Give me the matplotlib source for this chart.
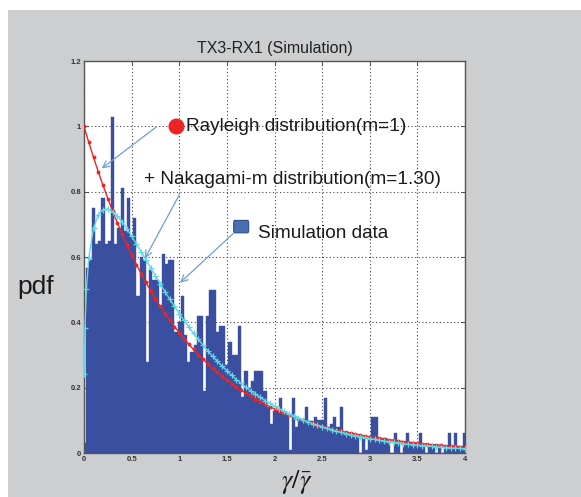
import numpy as np
import matplotlib
matplotlib.use("Agg")
import matplotlib.pyplot as plt
from matplotlib.patches import Rectangle, FancyBboxPatch

plt.rcParams['font.family'] = ['Liberation Sans', 'DejaVu Sans']
plt.rcParams['mathtext.fontset'] = 'stix'

# ---- data ----
bin_width = 1 / 30
hist_heights = [
    0.03, 0.565, 0.59, 0.75, 0.64, 0.65, 0.78, 0.64, 0.65, 1.03,
    0.64, 0.69, 0.81, 0.68, 0.78, 0.66, 0.72, 0.48, 0.60, 0.59,
    0.28, 0.56, 0.53, 0.53, 0.45, 0.61, 0.58, 0.59, 0.59, 0.37,
    0.40, 0.48, 0.36, 0.28, 0.31, 0.33, 0.42, 0.42, 0.19, 0.42,
    0.50, 0.50, 0.37, 0.39, 0.39, 0.27, 0.34, 0.30, 0.30, 0.39,
    0.17, 0.25, 0.20, 0.22, 0.25, 0.25, 0.25, 0.19, 0.14, 0.09,
    0.13, 0.13, 0.167, 0.12, 0.12, 0.01, 0.167, 0.08, 0.10, 0.10,
    0.14, 0.097, 0.097, 0.11, 0.10, 0.10, 0.167, 0.08, 0.09, 0.11,
    0.08, 0.14, 0.065, 0.065, 0.055, 0.055, 0.05, 0.0, 0.045, 0.01,
    0.045, 0.11, 0.11, 0.045, 0.045, 0.045, 0.04, 0.0, 0.06, 0.035,
    0.0, 0.035, 0.06, 0.03, 0.03, 0.03, 0.06, 0.02, 0.0, 0.02,
    0.02, 0.0, 0.02, 0.0, 0.02, 0.06, 0.02, 0.06, 0.02, 0.02,
    0.06,
]

ray_x = list(np.round(np.arange(0, 4.001, 0.05), 2))
ray_y = [
    1.000, 0.951, 0.905, 0.861, 0.819, 0.779, 0.741, 0.705, 0.670, 0.638,
    0.607, 0.577, 0.549, 0.522, 0.497, 0.472, 0.449, 0.427, 0.407, 0.387,
    0.368, 0.350, 0.333, 0.317, 0.301, 0.287, 0.273, 0.259, 0.247, 0.235,
    0.223, 0.212, 0.202, 0.192, 0.183, 0.174, 0.165, 0.157, 0.150, 0.142,
    0.135, 0.129, 0.122, 0.116, 0.111, 0.105, 0.100, 0.095, 0.091, 0.086,
    0.082, 0.078, 0.074, 0.071, 0.067, 0.064, 0.061, 0.058, 0.055, 0.052,
    0.050, 0.047, 0.045, 0.043, 0.041, 0.039, 0.037, 0.035, 0.033, 0.032,
    0.030, 0.029, 0.027, 0.026, 0.025, 0.024, 0.022, 0.021, 0.020, 0.019,
    0.018,
]

nak_x = [0.002, 0.01, 0.025] + list(np.round(np.arange(0.05, 4.001, 0.05), 2))
nak_y = [
    0.243, 0.383, 0.501,
    0.597, 0.689, 0.730, 0.745, 0.747, 0.739, 0.725, 0.708, 0.687, 0.664,
    0.640, 0.616, 0.592, 0.566, 0.542, 0.518, 0.494, 0.471, 0.449, 0.427,
    0.406, 0.386, 0.366, 0.348, 0.330, 0.313, 0.296, 0.281, 0.266, 0.252,
    0.238, 0.225, 0.213, 0.2015, 0.1905, 0.180, 0.170, 0.1607, 0.1518, 0.1433,
    0.1352, 0.1276, 0.1204, 0.1137, 0.1073, 0.1012, 0.0953, 0.0900, 0.0849, 0.0800,
    0.0753, 0.0710, 0.0669, 0.0631, 0.0594, 0.0559, 0.0528, 0.0496, 0.0468, 0.0440,
    0.0416, 0.0392, 0.0369, 0.0346, 0.0326, 0.0307, 0.0288, 0.0271, 0.0257, 0.0242,
    0.0227, 0.0214, 0.0201, 0.0188, 0.0177, 0.0168, 0.0157, 0.0148, 0.0140, 0.0131,
]

x_ticks = [0, 0.5, 1, 1.5, 2, 2.5, 3, 3.5, 4]
x_tick_labels = ['0', '0.5', '1', '1.5', '2', '2.5', '3', '3.5', '4']
y_ticks = [0, 0.2, 0.4, 0.6, 0.8, 1.0, 1.2]
y_tick_labels = ['0', '0.2', '0.4', '0.6', '0.8', '1', '1.2']

title = 'TX3-RX1 (Simulation)'
label_ray = 'Rayleigh distribution(m=1)'
label_nak = '+ Nakagami-m distribution(m=1.30)'
label_sim = 'Simulation data'

# ---- styles ----
bar_color = '#3a4f9f'
red = '#ee2424'
cyan = '#62d6e4'
arrow_color = '#6f9fd4'
bg_gray = '#cdced0'

W, H = 581, 497
fig = plt.figure(figsize=(W / 100, H / 100), dpi=100)
fig.patch.set_facecolor('white')
fig.patches.append(Rectangle((8 / W, 0), 1, 487 / H, transform=fig.transFigure,
                             facecolor=bg_gray, edgecolor='none', zorder=-10))

ax = fig.add_axes([84 / W, 44 / H, 381 / W, 392 / H])
ax.set_facecolor('white')

centers = np.arange(len(hist_heights)) * bin_width
ax.bar(centers, hist_heights, width=bin_width, color=bar_color,
       edgecolor=bar_color, linewidth=0.3, zorder=2)

ax.plot(ray_x, ray_y, color=red, lw=1.0, marker='.', ms=3.5, zorder=3)
ax.plot(nak_x, nak_y, color=cyan, lw=1.0, marker='+', ms=5, mew=0.9, zorder=4)

ax.set_xlim(0, 4)
ax.set_ylim(0, 1.2)
ax.set_xticks(x_ticks)
ax.set_xticklabels(x_tick_labels)
ax.set_yticks(y_ticks)
ax.set_yticklabels(y_tick_labels)
ax.tick_params(direction='in', length=3, width=0.6, labelsize=5.5,
               colors='#333333', pad=2, top=True, right=True)
for lab in ax.get_xticklabels() + ax.get_yticklabels():
    lab.set_fontweight('bold')
ax.grid(True, color='#444444', linestyle=(0, (1, 2.2)), linewidth=0.8)
ax.set_axisbelow(True)
for s in ax.spines.values():
    s.set_color('#555555')
    s.set_linewidth(1.0)

ax.set_title(title, fontsize=11.5, color='#222222', pad=6)

# annotations
aprops = dict(arrowstyle='->', color=arrow_color, lw=0.9,
              mutation_scale=12, shrinkA=0, shrinkB=0)
ax.annotate('', xy=(0.186, 0.871), xytext=(0.763, 0.999), arrowprops=aprops, zorder=6)
ax.annotate('', xy=(0.64, 0.596), xytext=(1.0, 0.79), arrowprops=aprops, zorder=6)
ax.annotate('', xy=(1.008, 0.521), xytext=(1.567, 0.672), arrowprops=aprops, zorder=6)

ax.plot([0.961], [1.0], marker='o', ms=10.5, color=red, mec=red, zorder=7, clip_on=False)
ax.text(1.07, 1.0, label_ray, fontsize=13.7, color='#1a1a1a', va='center', ha='left', zorder=7)
ax.text(0.63, 0.836, label_nak, fontsize=13.7, color='#1a1a1a', va='center', ha='left', zorder=7)
ax.add_patch(FancyBboxPatch((1.575, 0.678), 0.15, 0.03,
                            boxstyle='round,pad=0.004,rounding_size=0.01',
                            facecolor='#4a6fb0', edgecolor='#2f4f86', lw=0.8, zorder=7))
ax.text(1.827, 0.673, label_sim, fontsize=13.7, color='#1a1a1a', va='center', ha='left', zorder=7)

fig.text(36 / W, 1 - 287 / H, 'pdf', fontsize=19, color='#1a1a1a', ha='center', va='center')
fig.text(297 / W, 1 - 488 / H, r'$\gamma/\bar{\gamma}$', fontsize=19, color='#1a1a1a',
         ha='center', va='baseline')

fig.savefig('out.png', dpi=100, facecolor=fig.get_facecolor())
